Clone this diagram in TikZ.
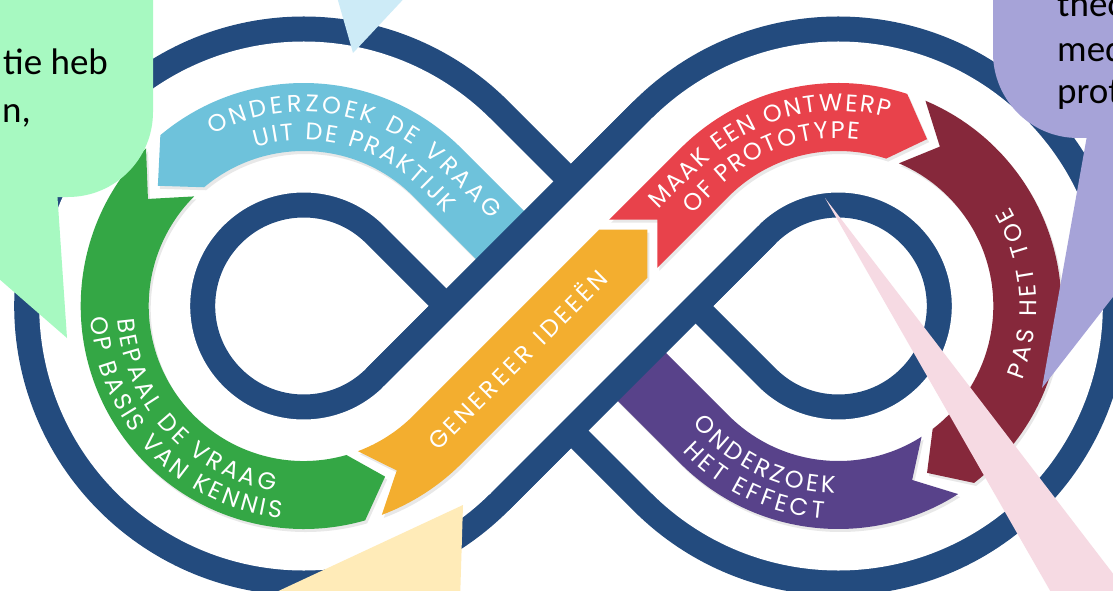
\documentclass[tikz,border=0pt]{standalone}
\usepackage{fontspec}
\usetikzlibrary{calc,decorations.text,shadows}
\newfontfamily\lblfont{Poppins}
\newfontfamily\bubblefont{Carlito}
\definecolor{bandblue}{HTML}{234B7E}
\definecolor{vraagcyan}{HTML}{6EC2DB}
\definecolor{kennisgreen}{HTML}{34A745}
\definecolor{ideeorange}{HTML}{F3AE2F}
\definecolor{ontwerpred}{HTML}{E8424B}
\definecolor{toemaroon}{HTML}{86283B}
\definecolor{effectpurple}{HTML}{58428A}
\definecolor{bubblemint}{HTML}{A7F9C1}
\definecolor{bubblesky}{HTML}{CDEBF7}
\definecolor{bubblelilac}{HTML}{A6A3D8}
\definecolor{bubblepink}{HTML}{F6DAE3}
\definecolor{bubblecream}{HTML}{FFEBB8}
\newcommand\arrowtext{\lblfont\fontsize{24}{24}\selectfont\color{white}}
\newcommand\bubbletext{\bubblefont\fontsize{37}{44}\selectfont}
\def\R{189pt}

\begin{document}
\begin{tikzpicture}[x=1pt,y=1pt,
  stepfill/.style={fill=#1,drop shadow={shadow xshift=2pt,shadow yshift=-3pt,opacity=0.18}},
  lbl/.style={decorate,decoration={text along path,text align={fit to path},text={|\arrowtext|#1}}},
  bubble/.style={anchor=base west,inner sep=0pt,font=\bubbletext}]
\useasboundingbox (0,0) rectangle (1113,-591);
\clip (0,0) rectangle (1113,-591);
\fill[white] (0,0) rectangle (1113,-591);

\coordinate (P) at (571,-306);
\coordinate (CL) at (303.7,-306);
\coordinate (CR) at (838.3,-306);

% infinity band
\foreach \w/\c in {201pt/bandblue,151pt/white}
  \draw[line width=\w,\c] ($(CL)+(45:\R)$) -- ($(CR)+(225:\R)$)
    arc[start angle=225,end angle=495,radius=\R] -- ($(CL)+(-45:\R)$)
    arc[start angle=-45,end angle=-315,radius=\R] -- cycle;

% arrows passing under the crossing
\fill[stepfill=vraagcyan] ($(P)+(225:34pt)$) -- ($(P)+(45:34pt)$) -- ($(CL)+(45:223pt)$)
  arc[start angle=45,end angle=130,radius=223pt] -- ($(CL)+(140.5:\R)$) -- ($(CL)+(130:155pt)$)
  arc[start angle=130,end angle=45,radius=155pt] -- cycle;
\fill[stepfill=effectpurple] ($(CR)+(-57.5:223pt)$) arc[start angle=-57.5,end angle=-135,radius=223pt]
  -- ($(P)+(225:34pt)$) -- ($(P)+(45:34pt)$) -- ($(CR)+(-135:155pt)$)
  arc[start angle=-135,end angle=-57.5,radius=155pt] -- ($(CR)+(-67:\R)$) -- cycle;

% band over the crossing
\draw[line width=201pt,bandblue] ($(CL)+(-45:\R)$) -- ($(CR)+(135:\R)$);
\draw[line width=151pt,white] ($(CL)+(-45:\R)+(225:2pt)$) -- ($(CR)+(135:\R)+(45:2pt)$);

% other arrows
\fill[stepfill=kennisgreen] ($(CL)+(135:223pt)$) arc[start angle=135,end angle=286,radius=223pt]
  -- ($(CL)+(295.5:\R)$) -- ($(CL)+(286:155pt)$) arc[start angle=286,end angle=135,radius=155pt]
  -- ($(CL)+(145.5:\R)$) -- cycle;
\fill[stepfill=ideeorange] ($(CL)+(290.5:223pt)$) arc[start angle=290.5,end angle=315,radius=223pt]
  -- ($(P)+(45:74pt)+(315:34pt)$) -- ($(P)+(45:108pt)$) -- ($(P)+(45:74pt)+(135:34pt)$)
  -- ($(CL)+(315:155pt)$) arc[start angle=315,end angle=290.5,radius=155pt]
  -- ($(CL)+(299.5:\R)$) -- cycle;
\fill[stepfill=ontwerpred] ($(P)+(45:88pt)+(135:34pt)$) -- ($(CR)+(135:223pt)$)
  arc[start angle=135,end angle=72,radius=223pt] -- ($(CR)+(62:\R)$) -- ($(CR)+(72:155pt)$)
  arc[start angle=72,end angle=135,radius=155pt] -- ($(P)+(45:88pt)+(315:34pt)$)
  -- ($(P)+(45:122pt)$) -- cycle;
\fill[stepfill=toemaroon] ($(CR)+(67:223pt)$) arc[start angle=67,end angle=-52.5,radius=223pt]
  -- ($(CR)+(-62:\R)$) -- ($(CR)+(-52.5:155pt)$) arc[start angle=-52.5,end angle=67,radius=155pt]
  -- ($(CR)+(57.5:\R)$) -- cycle;

% labels
\path[lbl={ONDERZOEK DE VRAAG}] ($(CL)+(118:194pt)$) arc[start angle=118,end angle=45,radius=194pt] -- ++(-45:72pt);
\path[lbl={UIT DE PRAKTIJK}] ($(CL)+(107:166pt)$) arc[start angle=107,end angle=45,radius=166pt] -- ++(-45:35pt);
\path[lbl={OP BASIS VAN KENNIS}] ($(CL)+(183:213pt)$) arc[start angle=183,end angle=264,radius=213pt];
\path[lbl={BEPAAL DE VRAAG}] ($(CL)+(184:187pt)$) arc[start angle=184,end angle=261,radius=187pt];
\path[lbl={GENEREER IDEEËN}] ($(P)+(225:197pt)+(315:9pt)$) -- ($(P)+(45:45pt)+(315:9pt)$);
\path[lbl={MAAK EEN ONTWERP}] ($(CR)+(135:195pt)+(225:59pt)$) -- ++(45:59pt) arc[start angle=135,end angle=75,radius=195pt];
\path[lbl={OF PROTOTYPE}] ($(CR)+(135:168pt)+(225:38pt)$) -- ++(45:38pt) arc[start angle=135,end angle=83,radius=168pt];
\path[lbl={PAS HET TOE}] ($(CR)+(-22:198pt)$) arc[start angle=-22,end angle=30,radius=198pt];
\path[lbl={ONDERZOEK}] ($(CR)+(219:187pt)$) arc[start angle=219,end angle=269,radius=187pt];
\path[lbl={HET EFFECT}] ($(CR)+(223:213pt)$) arc[start angle=223,end angle=266,radius=213pt];

% speech bubbles at the edges
\fill[bubblesky] (335,10) -- (412,10) -- (353,-53) -- cycle;
\fill[bubblemint] (-10,10) -- (153,10) -- (153,-112) arc[start angle=0,end angle=-90,radius=85pt] -- (-10,-197) -- cycle;
\fill[bubblemint] (-10,-190) -- (57,-190) -- (67,-338) -- (-10,-271) -- cycle;
\fill[bubblelilac] (993,10) -- (993,-53) arc[start angle=180,end angle=270,radius=85pt] -- (1123,-138) -- (1123,10) -- cycle;
\fill[bubblelilac] (1088,-130) -- (1042,-388) -- (1123,-284) -- (1123,-130) -- cycle;
\fill[bubblepink] (825,-198) -- (1056,-601) -- (1134,-601) -- cycle;
\fill[bubblecream] (463,-505) -- (257,-601) -- (460,-601) -- cycle;

\node[bubble] (mintline1) at (3,-75) {tie heb};
\node[bubble] (mintline2) at (2,-123) {n,};
\node[bubble] (lilacline1) at (1057,-17) {theo};
\node[bubble] (lilacline2) at (1057,-62) {med};
\node[bubble] (lilacline3) at (1057,-104) {prot};
\end{tikzpicture}
\end{document}
